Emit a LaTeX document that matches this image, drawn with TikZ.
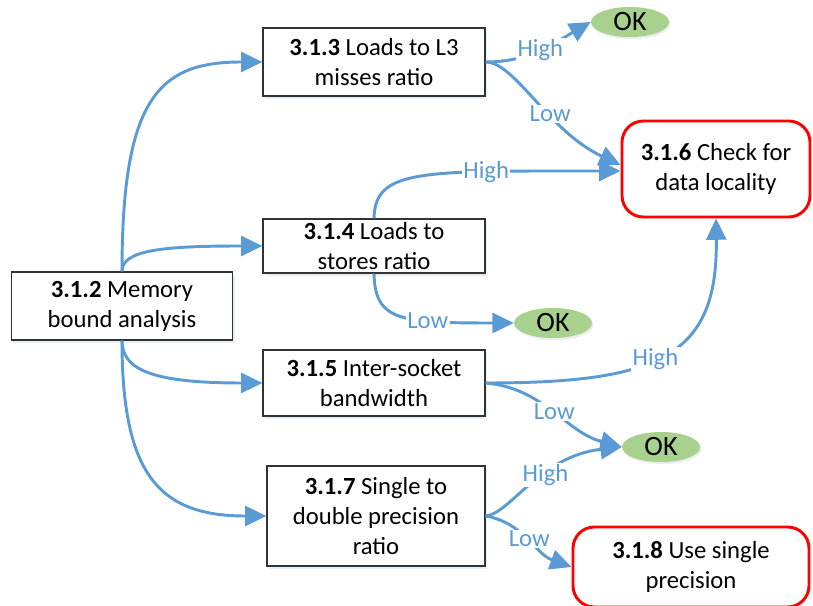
\documentclass[tikz,border=0pt]{standalone}
\usepackage{fontspec}
\setmainfont{Carlito}
\usepackage{xcolor}
\usepackage{tikz}
\usetikzlibrary{arrows.meta}
\usetikzlibrary{shadows}
\usetikzlibrary{shapes.geometric}

\definecolor{flowblue}{HTML}{5B9BD5}
\definecolor{okgreen}{HTML}{A9D18E}
\definecolor{alertred}{HTML}{FF0000}

\begin{document}
\begin{tikzpicture}[x=0.75pt,y=0.75pt,
    every node/.style={font=\fontsize{18.5}{22.5}\selectfont},
    stepbox/.style={draw=black!80,line width=0.9pt,fill=white,align=center,
      inner xsep=2pt,inner ysep=1pt,
      drop shadow={shadow xshift=1.5pt,shadow yshift=-2pt,fill=flowblue!35,opacity=0.45}},
    alertbox/.style={draw=alertred,line width=2.2pt,rounded corners=16pt,
      fill=white,align=center,inner sep=2pt},
    okay/.style={ellipse,fill=okgreen,inner sep=0pt,minimum width=58.5pt,minimum height=22.5pt,
      font=\fontsize{21}{24}\selectfont,
      drop shadow={shadow xshift=1pt,shadow yshift=-1.5pt,fill=black!20,opacity=0.4}},
    flow/.style={draw=flowblue,line width=2.2pt,-{Triangle[length=16pt,width=15pt]}},
    answer/.style={fill=white,text=flowblue,inner sep=1pt}]
    \useasboundingbox (0,0) rectangle (813,606);

    \node[stepbox,minimum width=165.75pt,minimum height=51pt] (mem) at (122,300)
      {\textbf{3.1.2} Memory\\bound analysis};
    \node[stepbox,minimum width=166.5pt,minimum height=51pt] (l3) at (374,544)
      {\textbf{3.1.3} Loads to L3\\misses ratio};
    \node[stepbox,minimum width=166.5pt,minimum height=40.5pt,inner ysep=0pt] (ls) at (374,360)
      {\textbf{3.1.4} Loads to\\stores ratio};
    \node[stepbox,minimum width=166.5pt,minimum height=49.5pt] (isb) at (374,223)
      {\textbf{3.1.5} Inter-socket\\bandwidth};
    \node[stepbox,minimum width=163.5pt,minimum height=75pt] (sd) at (376,90)
      {\textbf{3.1.7} Single to\\double precision\\ratio};
    \node[alertbox,minimum width=141pt,minimum height=72pt] (dl) at (716,437)
      {\textbf{3.1.6} Check for\\data locality};
    \node[alertbox,minimum width=177pt,minimum height=60pt] (sp) at (691,39)
      {\textbf{3.1.8} Use single\\precision};
    \node[okay] (ok1) at (630,584) {OK};
    \node[okay] (ok2) at (553,283) {OK};
    \node[okay] (ok3) at (661,159) {OK};

    \draw[flow] (mem.north) .. controls (122,510) and (160,544) .. (l3.west);
    \draw[flow] (mem.north) .. controls (122,356) and (163,360) .. (ls.west);
    \draw[flow] (mem.south) .. controls (122,236) and (153,223) .. (isb.west);
    \draw[flow] (mem.south) .. controls (122,130) and (160,90) .. (sd.west);

    \draw[flow] (l3.east) to[out=0,in=210] node[answer] (h1) {High} (ok1.west);
    \draw[flow] (l3.east) .. controls (515,544) and (548,475) ..
      node[answer,pos=.6] (w1) {Low} ([yshift=3pt]dl.west);
    \draw[flow] (ls.north) .. controls (375,437) and (420,435) ..
      node[answer,pos=.72] (h2) {High} ([yshift=-1.5pt]dl.west);
    \draw[flow] (ls.south) .. controls (375,285) and (400,283) ..
      node[answer,pos=.67] (w2) {Low} (ok2.west);
    \draw[flow] (isb.east) .. controls (660,223) and (718,250) ..
      node[answer,pos=.45] (h3) {High} (dl.south);
    \draw[flow] (isb.east) to[out=-5,in=165] node[answer] (w3) {Low} (ok3.west);
    \draw[flow] (sd.east) .. controls (510,92) and (540,150) ..
      node[answer,pos=.6] (h4) {High} (ok3.west);
    \draw[flow] (sd.east) to[out=-10,in=160] node[answer] (w4) {Low} (sp.west);
  \end{tikzpicture}
\end{document}
